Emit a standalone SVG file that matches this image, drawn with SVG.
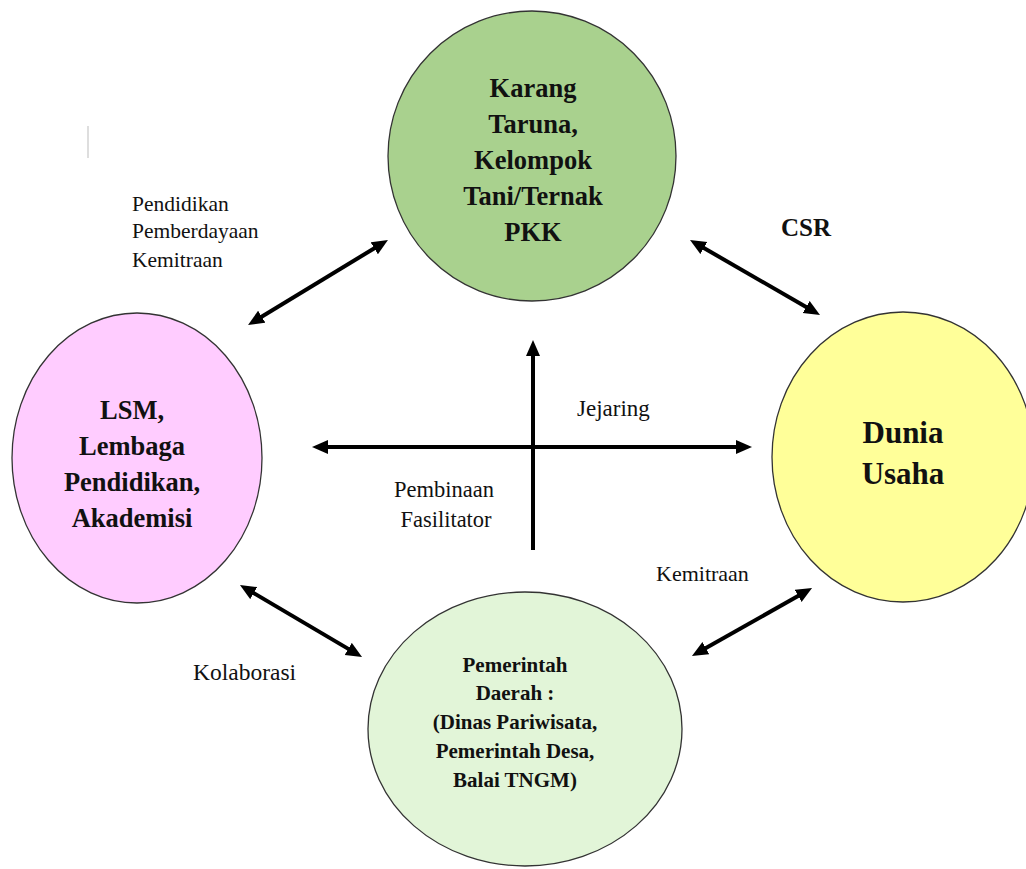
<svg xmlns="http://www.w3.org/2000/svg" width="1026" height="869" viewBox="0 0 1026 869">
<style>
.node{stroke:#333;stroke-width:1.3}
.big{font-family:"Liberation Serif","Times New Roman",serif;font-weight:bold;text-anchor:middle;fill:#111}
.lbl{font-family:"Liberation Serif","Times New Roman",serif;font-size:21.5px;fill:#111}
.conn{stroke:#000;stroke-width:4;fill:none}
</style>
<defs>
<marker id="ah" markerUnits="userSpaceOnUse" markerWidth="18" markerHeight="16" refX="4" refY="7" orient="auto-start-reverse">
<path d="M0,0 L16,7 L0,14 z" fill="#000"/>
</marker>
</defs>
<rect width="1026" height="869" fill="#fff"/>
<line x1="88" y1="126" x2="88" y2="158" stroke="#c8c8c8" stroke-width="1.2"/>
<g id="node-karang">
<ellipse class="node" cx="532" cy="156" rx="144" ry="145" fill="#a9d18e"/>
<text class="big" font-size="26.5"><tspan x="533" y="97">Karang</tspan><tspan x="533" y="133">Taruna,</tspan><tspan x="533" y="169">Kelompok</tspan><tspan x="533" y="205">Tani/Ternak</tspan><tspan x="533" y="241">PKK</tspan></text>
</g>
<g id="node-lsm">
<ellipse class="node" cx="137" cy="458" rx="125" ry="145" fill="#ffccff"/>
<text class="big" font-size="26.5"><tspan x="132" y="419">LSM,</tspan><tspan x="132" y="455">Lembaga</tspan><tspan x="132" y="491">Pendidikan,</tspan><tspan x="132" y="527">Akademisi</tspan></text>
</g>
<g id="node-dunia">
<ellipse class="node" cx="903" cy="457" rx="131" ry="145" fill="#ffff99"/>
<text class="big" font-size="31"><tspan x="903" y="443">Dunia</tspan><tspan x="903" y="484">Usaha</tspan></text>
</g>
<g id="node-pemda">
<ellipse class="node" cx="525" cy="729" rx="157" ry="137" fill="#e2f5d8"/>
<text class="big" font-size="21"><tspan x="515" y="672">Pemerintah</tspan><tspan x="515" y="700">Daerah :</tspan><tspan x="515" y="729">(Dinas Pariwisata,</tspan><tspan x="515" y="758">Pemerintah Desa,</tspan><tspan x="515" y="787">Balai TNGM)</tspan></text>
</g>
<g id="connectors">
<line class="conn" x1="258.3" y1="318.8" x2="377.7" y2="246.2" marker-start="url(#ah)" marker-end="url(#ah)"/>
<line class="conn" x1="700.4" y1="246" x2="809.6" y2="309" marker-start="url(#ah)" marker-end="url(#ah)"/>
<line class="conn" x1="250.3" y1="591.1" x2="351.7" y2="650.9" marker-start="url(#ah)" marker-end="url(#ah)"/>
<line class="conn" x1="702.4" y1="650.1" x2="801.6" y2="593.9" marker-start="url(#ah)" marker-end="url(#ah)"/>
<line class="conn" x1="324" y1="447" x2="740" y2="447" marker-start="url(#ah)" marker-end="url(#ah)"/>
<line class="conn" x1="533" y1="550" x2="533" y2="352" marker-end="url(#ah)"/>
</g>
<g id="labels">
<text class="lbl"><tspan x="132" y="211">Pendidikan</tspan><tspan x="132" y="238">Pemberdayaan</tspan><tspan x="132" y="267">Kemitraan</tspan></text>
<text class="big" font-size="25" x="806" y="236">CSR</text>
<text class="lbl" font-size="23" x="577" y="416" style="font-size:23px">Jejaring</text>
<text class="lbl" text-anchor="middle" style="font-size:22.5px"><tspan x="444" y="497">Pembinaan</tspan><tspan x="446" y="527">Fasilitator</tspan></text>
<text class="lbl" x="656" y="581" style="font-size:22px">Kemitraan</text>
<text class="lbl" x="193" y="680" style="font-size:23.5px">Kolaborasi</text>
</g>
</svg>
